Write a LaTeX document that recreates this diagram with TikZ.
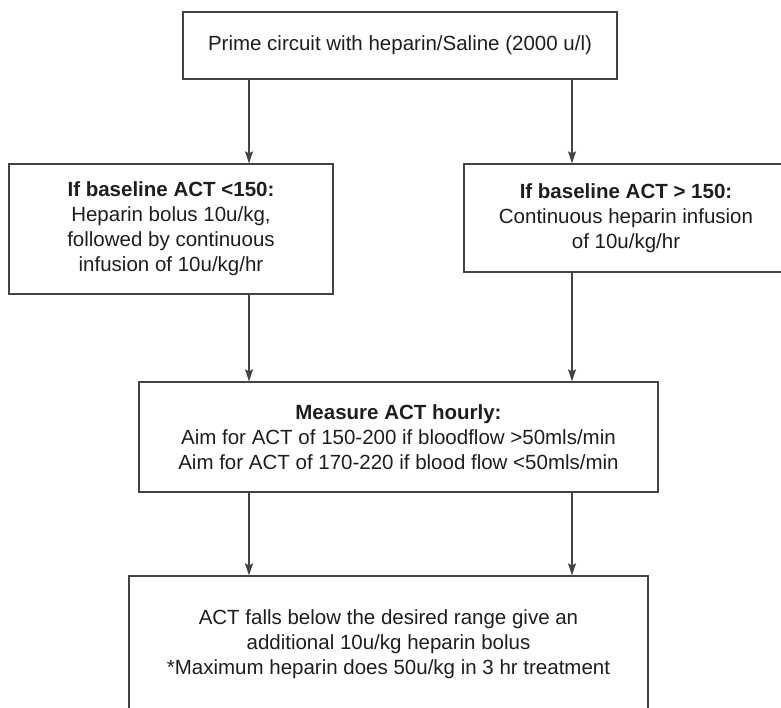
\documentclass[tikz,border=0pt]{standalone}
\usepackage{fontspec}
\setmainfont{Liberation Sans}
\usetikzlibrary{arrows.meta}
\definecolor{linegray}{HTML}{444444}
\definecolor{txt}{HTML}{1E1E1E}
\tikzset{
  box/.style={draw=linegray, line width=1.3pt, rectangle, inner sep=0pt, align=center, text=txt,
    font=\fontsize{20.5}{25}\selectfont},
  arr/.style={draw=linegray, line width=1.3pt, -{Stealth[length=12pt,width=8pt,inset=2pt]}}
}
\begin{document}
\begin{tikzpicture}[x=1pt,y=-1pt]
\clip (0,0) rectangle (781,707);
\fill[white] (0,0) rectangle (781,707);
\coordinate (cl) at (249,0);
\coordinate (cr) at (572,0);
\node[box, minimum width=434pt, minimum height=67pt] (top) at (400,45.5)
  {Prime circuit with heparin/Saline (2000 u/l)};
\node[box, minimum width=324pt, minimum height=130pt] (left) at (171,229)
  {\textbf{If baseline ACT <150:}\\Heparin bolus 10u/kg,\\followed by continuous\\infusion of 10u/kg/hr};
\node[box, minimum width=324pt, minimum height=108pt] (right) at (626,218)
  {\textbf{If baseline ACT > 150:}\\Continuous heparin infusion\\of 10u/kg/hr};
\node[box, minimum width=519pt, minimum height=110pt] (mid) at (398.5,437)
  {\textbf{Measure ACT hourly:}\\Aim for ACT of 150-200 if bloodflow >50mls/min\\Aim for ACT of 170-220 if blood flow <50mls/min};
\node[box, minimum width=519pt, minimum height=136pt] (bot) at (388.5,644)
  {ACT falls below the desired range give an\\additional 10u/kg heparin bolus\\*Maximum heparin does 50u/kg in 3 hr treatment};
\draw[arr] (top.south -| cl) -- (left.north -| cl);
\draw[arr] (top.south -| cr) -- (right.north -| cr);
\draw[arr] (left.south -| cl) -- (mid.north -| cl);
\draw[arr] (right.south -| cr) -- (mid.north -| cr);
\draw[arr] (mid.south -| cl) -- (bot.north -| cl);
\draw[arr] (mid.south -| cr) -- (bot.north -| cr);
\end{tikzpicture}
\end{document}
